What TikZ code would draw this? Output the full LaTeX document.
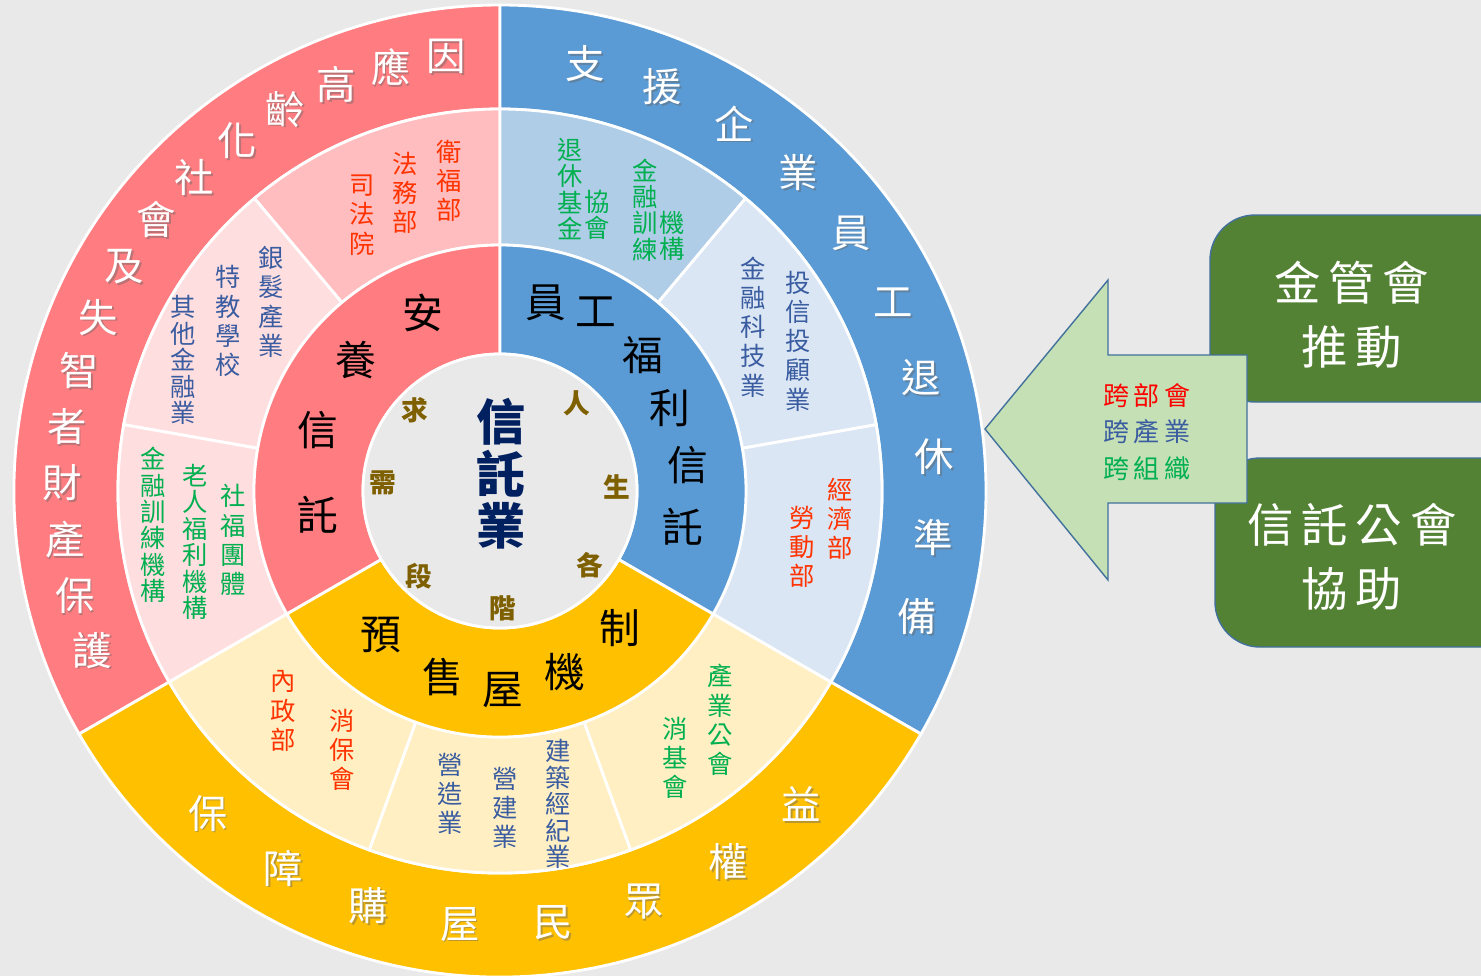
\documentclass[tikz,border=0pt]{standalone}
\usepackage{fontspec}
\setmainfont{Noto Sans CJK TC}
\usetikzlibrary{positioning}

\definecolor{bgray}{HTML}{E9E9E9}
\definecolor{ringred}{HTML}{FF7C80}
\definecolor{midred}{HTML}{FFBDBF}
\definecolor{palered}{HTML}{FFDEDF}
\definecolor{ringblue}{HTML}{5B9BD5}
\definecolor{midblue}{HTML}{B0CDE8}
\definecolor{paleblue}{HTML}{DAE6F4}
\definecolor{ringgold}{HTML}{FFC000}
\definecolor{palegold}{HTML}{FFEFC2}
\definecolor{txtred}{HTML}{FF3300}
\definecolor{purered}{HTML}{FF0000}
\definecolor{txtblue}{HTML}{3A5CA0}
\definecolor{txtgreen}{HTML}{00B050}
\definecolor{txtnavy}{HTML}{002060}
\definecolor{txtbrown}{HTML}{7F6000}
\definecolor{arrowfill}{HTML}{C5E0B4}
\definecolor{edgeblue}{HTML}{41719C}
\definecolor{boxgreen}{HTML}{548235}

% annular sector: fill, from, to, inner r, outer r
\newcommand{\ringpart}[5]{\filldraw[fill=#1, draw=white, line width=2pt] (#2:#4) arc (#2:#3:#4) -- (#3:#5) arc (#3:#2:#5) -- cycle;}

\begin{document}
\begin{tikzpicture}[x=0.025cm, y=0.025cm]
\tikzstyle{outerch} = [text=white, font=\fontsize{28}{30}\selectfont, inner sep=0pt]
\tikzstyle{outershade} = [outerch, text=black!60, opacity=0.45, xshift=1.3pt, yshift=-1.3pt]
\tikzstyle{innerch} = [text=black, font=\fontsize{29}{30}\selectfont, inner sep=0pt]
\tikzstyle{stagech} = [text=txtbrown, font=\fontsize{19}{20}\selectfont\bfseries, inner sep=0pt]
\tikzstyle{coretxt} = [text=txtnavy, align=center, font=\fontsize{35}{37}\selectfont\bfseries, inner sep=0pt]
\tikzstyle{midtxt} = [align=center, font=\fontsize{18}{20.8}\selectfont, inner sep=0pt]
\tikzstyle{midtight} = [align=center, font=\fontsize{18}{18.8}\selectfont, inner sep=0pt]
\tikzstyle{boxtxt} = [text=white, align=center, font=\fontsize{33}{45.5}\selectfont, inner sep=0pt]

\fill[bgray] (0,0) rectangle (1481,-976);
\useasboundingbox (0,0) rectangle (1481,-976);

\begin{scope}[shift={(500,-491)}]
% outer ring
\ringpart{ringred}{90}{210}{382}{486}
\ringpart{ringblue}{-30}{90}{382}{486}
\ringpart{ringgold}{210}{330}{382}{486}
% middle ring
\ringpart{midred}{90}{130}{246}{382}
\ringpart{palered}{130}{170}{246}{382}
\ringpart{palered}{170}{210}{246}{382}
\ringpart{midblue}{50}{90}{246}{382}
\ringpart{paleblue}{10}{50}{246}{382}
\ringpart{paleblue}{-30}{10}{246}{382}
\ringpart{palegold}{210}{250}{246}{382}
\ringpart{palegold}{250}{290}{246}{382}
\ringpart{palegold}{290}{330}{246}{382}
% inner ring
\ringpart{ringred}{90}{210}{137}{246}
\ringpart{ringblue}{-30}{90}{137}{246}
\ringpart{ringgold}{210}{330}{137}{246}
\filldraw[fill=bgray, draw=white, line width=2pt] (0,0) circle (137);

\foreach \ch [count=\i from 0] in {因,應,高,齡,化,社,會,及,失,智,者,財,產,保,護} {
  \node[outershade] (sa\i) at ({97+7.45*\i}:438) {\ch};
  \node[outerch] (ra\i) at ({97+7.45*\i}:438) {\ch};
}
\foreach \ch [count=\i from 0] in {支,援,企,業,員,工,退,休,準,備} {
  \node[outershade] (sb\i) at ({78.7-10.6*\i}:436) {\ch};
  \node[outerch] (rb\i) at ({78.7-10.6*\i}:436) {\ch};
}
\foreach \ch [count=\i from 0] in {保,障,購,屋,民,眾,權,益} {
  \node[outershade] (sc\i) at ({227.8+12.3*\i}:435) {\ch};
  \node[outerch] (rc\i) at ({227.8+12.3*\i}:435) {\ch};
}

\foreach \a/\r/\ch [count=\i] in {113.4/194/安, 137.7/195/養, 161.5/192/信, 187.5/184/託}
  \node[innerch] (ia\i) at (\a:\r) {\ch};
\foreach \a/\r/\ch [count=\i] in {76.3/194/員, 61.8/203/工, 43.6/197/福, 26/189/利, 7.9/190/信, -11.1/186/託}
  \node[innerch] (ib\i) at (\a:\r) {\ch};
\foreach \a/\r/\ch [count=\i] in {230.4/187/預, 253/195/售, 270.9/199/屋, 289.8/192/機, 311.2/182/制}
  \node[innerch] (ic\i) at (\a:\r) {\ch};

\foreach \a/\ch [count=\i] in {48.7/人, 1.9/生, -39.6/各, -88.5/階, -133.6/段, 176/需, 136.4/求}
  \node[stagech] (st\i) at (\a:117) {\ch};
\node[coretxt] (core) at (1,17) {信\\託\\業};
\end{scope}

% middle ring, red part
\node[midtxt, text=txtred] (weifu) at (449,-181) {衛\\福\\部};
\node[midtxt, text=txtred] (fawu) at (405,-193) {法\\務\\部};
\node[midtxt, text=txtred] (sifa) at (362,-215) {司\\法\\院};
\node[midtxt, text=txtblue] (yinfa) at (271,-302) {銀\\髮\\產\\業};
\node[midtxt, text=txtblue] (tejiao) at (228,-321) {特\\教\\學\\校};
\node[midtight, text=txtblue] (qita) at (183,-360) {其\\他\\金\\融\\業};
\node[midtxt, text=txtgreen] (shefu) at (233,-540) {社\\福\\團\\體};
\node[midtight, text=txtgreen] (laoren) at (195,-542) {老\\人\\福\\利\\機\\構};
\node[midtight, text=txtgreen] (xunlian) at (153,-525) {金\\融\\訓\\練\\機\\構};
% middle ring, blue part
\node[midtight, text=txtgreen] (tuixiu) at (570,-189) {退\\休\\基\\金};
\node[midtight, text=txtgreen] (xiehui) at (597,-215) {協\\會};
\node[midtight, text=txtgreen] (jinrong) at (645,-210) {金\\融\\訓\\練};
\node[midtight, text=txtgreen] (jigou) at (672,-236) {機\\構};
\node[midtxt, text=txtblue] (touxin) at (798,-341) {投\\信\\投\\顧\\業};
\node[midtxt, text=txtblue] (keji) at (753,-327) {金\\融\\科\\技\\業};
\node[midtxt, text=txtred] (jingji) at (840,-519) {經\\濟\\部};
\node[midtxt, text=txtred] (laodong) at (802,-547) {勞\\動\\部};
% middle ring, gold part
\node[midtxt, text=txtred] (neizheng) at (283,-711) {內\\政\\部};
\node[midtxt, text=txtred] (xiaobao) at (342,-750) {消\\保\\會};
\node[midtxt, text=txtblue] (yingzao) at (450,-794) {營\\造\\業};
\node[midtxt, text=txtblue] (yingjian) at (505,-808) {營\\建\\業};
\node[midtight, text=txtblue] (jingji2) at (558,-804) {建\\築\\經\\紀\\業};
\node[midtxt, text=txtgreen] (chanye) at (720,-720) {產\\業\\公\\會};
\node[midtxt, text=txtgreen] (xiaoji) at (675,-758) {消\\基\\會};

% boxes and arrow
\filldraw[fill=boxgreen, draw=edgeblue, line width=1pt, rounded corners=32] (1210,-215) rectangle (1540,-402);
\filldraw[fill=boxgreen, draw=edgeblue, line width=1pt, rounded corners=32] (1215,-458) rectangle (1540,-647);
\node[boxtxt] (fsc) at (1352,-315) {金\,管\,會\\推\,動};
\node[boxtxt] (assoc) at (1352,-557) {信\,託\,公\,會\\協\,助};
\filldraw[fill=arrowfill, draw=edgeblue, line width=1pt] (985,-429) -- (1108,-280) -- (1108,-355) -- (1247,-355) -- (1247,-503) -- (1108,-503) -- (1108,-580) -- cycle;
\node[align=center, font=\fontsize{18.5}{26}\selectfont, inner sep=0pt] (cross) at (1147,-432)
  {\color{purered}跨\,部\,會\\\color{txtblue}跨\,產\,業\\\color{txtgreen}跨\,組\,織};
\end{tikzpicture}
\end{document}
